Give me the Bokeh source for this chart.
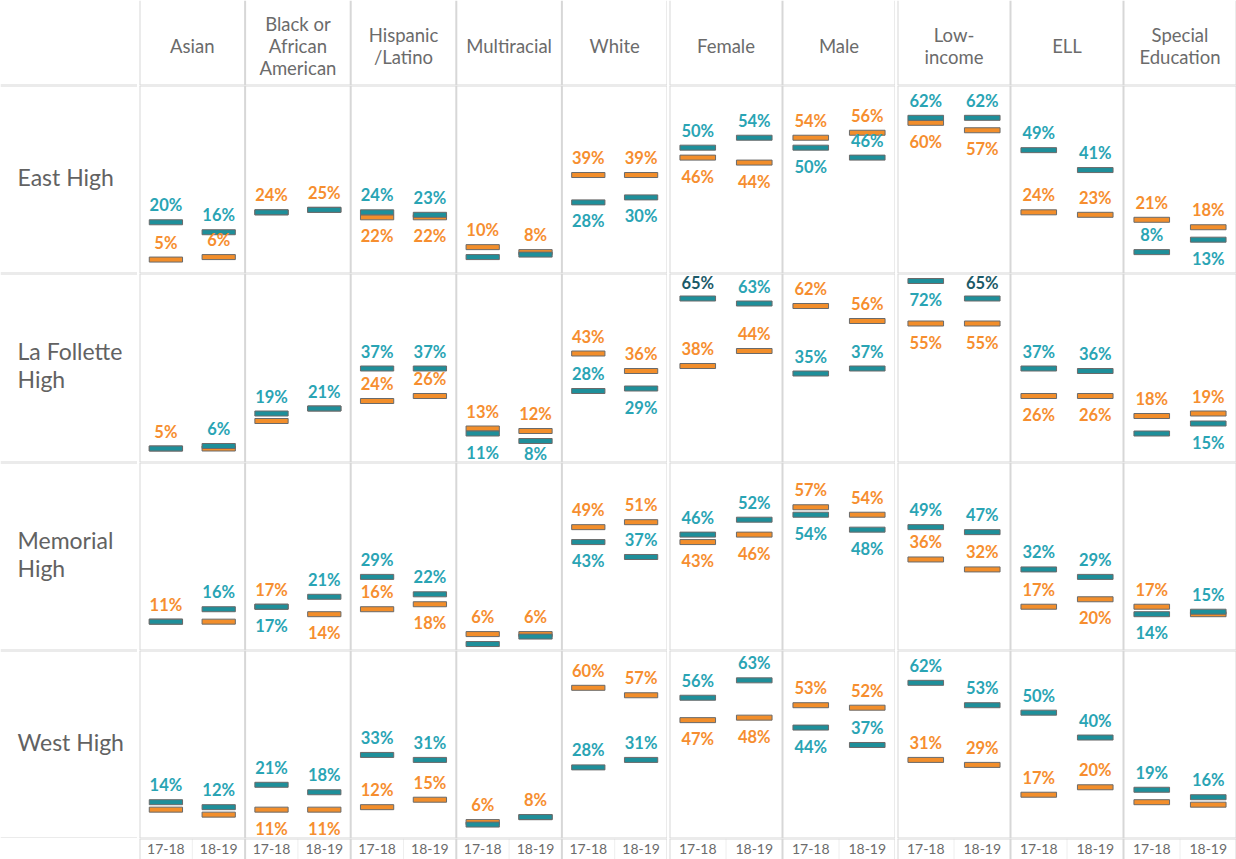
from bokeh.plotting import figure
from bokeh.models import FactorRange, Range1d, Span, ColumnDataSource
from bokeh.layouts import row, column
from bokeh.embed import file_html
from bokeh.resources import INLINE
from bokeh.core.properties import value

# ---------------- data ----------------
schools = ["East High", "La Follette High", "Memorial High", "West High"]
school_labels = ["East High", "La Follette\nHigh", "Memorial\nHigh", "West High"]
groups = ["Asian", "Black", "Hispanic", "Multiracial", "White",
          "Female", "Male", "Low-income", "ELL", "Special Education"]
group_labels = ["Asian", "Black or\nAfrican\nAmerican", "Hispanic\n/Latino", "Multiracial", "White",
                "Female", "Male", "Low-\nincome", "ELL", "Special\nEducation"]
years = ["17-18", "18-19"]

# teal series (percent), one list per school, in the order of `groups`
teal_1718 = {
    "East High":        [20, 24, 24, 6, 28, 50, 50, 62, 49, 8],
    "La Follette High": [5, 19, 37, 11, 28, 65, 35, 72, 37, 11],
    "Memorial High":    [11, 17, 29, 2, 43, 46, 54, 49, 32, 14],
    "West High":        [14, 21, 33, 5, 28, 56, 44, 62, 50, 19],
}
teal_1819 = {
    "East High":        [16, 25, 23, 7, 30, 54, 46, 62, 41, 13],
    "La Follette High": [6, 21, 37, 8, 29, 63, 37, 65, 36, 15],
    "Memorial High":    [16, 21, 22, 5, 37, 52, 48, 47, 29, 15],
    "West High":        [12, 18, 31, 8, 31, 63, 37, 53, 40, 16],
}
# orange series (percent)
orange_1718 = {
    "East High":        [5, 24, 22, 10, 39, 46, 54, 60, 24, 21],
    "La Follette High": [5, 16, 24, 13, 43, 38, 62, 55, 26, 18],
    "Memorial High":    [11, 17, 16, 6, 49, 43, 57, 36, 17, 17],
    "West High":        [11, 11, 12, 6, 60, 47, 53, 31, 17, 14],
}
orange_1819 = {
    "East High":        [6, 25, 22, 8, 39, 44, 56, 57, 23, 18],
    "La Follette High": [5, 21, 26, 12, 36, 44, 56, 55, 26, 19],
    "Memorial High":    [11, 14, 18, 6, 51, 46, 54, 32, 20, 14],
    "West High":        [9, 11, 15, 8, 57, 48, 52, 29, 20, 13],
}

# ---------------- label placement (style): a = above, b = below, - = hidden ----------------
teal_pos_1718 = {"East High": "a-a-babaaa", "La Follette High": "-aabaaaba-",
                 "Memorial High": "-ba-babaab", "West High": "aaa-aabaaa"}
teal_pos_1819 = {"East High": "a-a-baaaab", "La Follette High": "aaabbaaaab",
                 "Memorial High": "aaa-aabaaa", "West High": "aaa-aaaaaa"}
orange_pos_1718 = {"East High": "aabaababaa", "La Follette High": "a-aaaaabba",
                   "Memorial High": "aaaaabaaaa", "West High": "-baaabaaa-"}
orange_pos_1819 = {"East High": "aabaababaa", "La Follette High": "--aaaaabba",
                   "Memorial High": "-bbaabaab-", "West High": "-baaabaaa-"}
highlight = [("La Follette High", "Female", "17-18"), ("La Follette High", "Low-income", "18-19")]

values = {("teal", "17-18"): teal_1718, ("teal", "18-19"): teal_1819,
          ("orange", "17-18"): orange_1718, ("orange", "18-19"): orange_1819}
positions = {("teal", "17-18"): teal_pos_1718, ("teal", "18-19"): teal_pos_1819,
             ("orange", "17-18"): orange_pos_1718, ("orange", "18-19"): orange_pos_1819}

# ---------------- style ----------------
BAR = {"teal": "#1e8f9a", "orange": "#f28e2b"}
TXT = {"teal": "#29a4b4", "orange": "#f68e2f"}
HILITE_TXT = "#1b5a68"
BAR_LINE = "#6a6a6a"
GRID = "#d7d7d7"
LIGHT = "#eeeeee"
GREY_TXT = "#6b6b6b"
FONT = value("Lato")
Y0, Y1 = -0.6, 75.0

panel_groups = [groups[:5], groups[5:7], groups[7:]]
panel_widths = [528, 226, 339]
LABEL_W = 137
HEADER_H = 85
ROW_H = [188, 189, 188, 188]
AXIS_H = 21
ABOVE, BELOW, HALF_TXT = 17, 19, 9

x_ranges = [FactorRange(factors=[(g, y) for g in pg for y in years],
                        factor_padding=0, group_padding=0, range_padding=0)
            for pg in panel_groups]


def base_fig(width, height, x_range, y_range):
    p = figure(width=width, height=height, x_range=x_range, y_range=y_range,
               output_backend="svg", toolbar_location=None, tools="",
               min_border=0, x_axis_location=None, y_axis_location=None,
               outline_line_color=None, background_fill_color="white",
               border_fill_color="white")
    p.grid.visible = False
    return p


def hspan(p, loc):
    p.add_layout(Span(location=loc, dimension="width", line_color=GRID, line_width=2))


def vlines(p, n, light=False):
    for k in range(n + 1):
        p.add_layout(Span(location=2 * k, dimension="height", line_color=GRID, line_width=2))
    if light:
        for k in range(n):
            p.add_layout(Span(location=2 * k + 1, dimension="height", line_color=LIGHT, line_width=1))


def cell(school, k, height):
    pg = panel_groups[k]
    p = base_fig(panel_widths[k], height, x_ranges[k], Range1d(Y0, Y1))
    scale = height / (Y1 - Y0)
    vlines(p, len(pg))
    hspan(p, Y0)
    hspan(p, Y1)
    # bars: orange first, teal on top
    for ser in ("orange", "teal"):
        xs, ys = [], []
        for g in pg:
            gi = groups.index(g)
            for yr in years:
                xs.append((g, yr))
                ys.append(values[(ser, yr)][school][gi])
        p.rect(x=xs, y=ys, width=0.63, height=5, height_units="screen",
               fill_color=BAR[ser], line_color=BAR_LINE, line_width=1)
    # labels: teal first, orange on top
    for ser in ("teal", "orange"):
        xs, ys, tx, cols, dys = [], [], [], [], []
        for g in pg:
            gi = groups.index(g)
            for yr in years:
                pos = positions[(ser, yr)][school][gi]
                if pos == "-":
                    continue
                v = values[(ser, yr)][school][gi]
                xs.append((g, yr))
                ys.append(v)
                tx.append(f"{v}%")
                c = TXT[ser]
                if ser == "teal" and (school, g, yr) in highlight:
                    c = HILITE_TXT
                cols.append(c)
                if pos == "a":
                    dys.append(-min(ABOVE, (Y1 - v) * scale - HALF_TXT))
                else:
                    dys.append(min(BELOW, (v - Y0) * scale - HALF_TXT))
        src = ColumnDataSource(dict(x=xs, y=ys, text=tx, color=cols, dy=dys))
        p.text(x="x", y="y", text="text", source=src, text_color="color",
               y_offset="dy", text_align="center", text_baseline="middle",
               text_font=FONT, text_font_size="16.5px", text_font_style="bold")
    return p


# header row
hdr_left = base_fig(LABEL_W, HEADER_H, Range1d(0, 1), Range1d(0, 1))
hspan(hdr_left, 0)
header = [hdr_left]
for k, pg in enumerate(panel_groups):
    p = base_fig(panel_widths[k], HEADER_H, x_ranges[k], Range1d(0, 1))
    vlines(p, len(pg))
    hspan(p, 0)
    p.text(x=list(pg), y=[0.5] * len(pg), y_offset=3,
           text=[group_labels[groups.index(g)] for g in pg],
           text_align="center", text_baseline="middle", text_color=GREY_TXT,
           text_font=FONT, text_font_size="18.5px", text_line_height=1.0)
    header.append(p)

rows = [row(*header, spacing=2)]
for r, school in enumerate(schools):
    lab = base_fig(LABEL_W, ROW_H[r], Range1d(0, 1), Range1d(0, 1))
    hspan(lab, 0)
    hspan(lab, 1)
    lab.text(x=[0], y=[0.5], text=[school_labels[r]], x_offset=17, y_offset=-3,
             text_align="left", text_baseline="middle", text_color="#626262",
             text_font=FONT, text_font_size="23px", text_line_height=1.0)
    rows.append(row(lab, *[cell(school, k, ROW_H[r]) for k in range(3)], spacing=2))

# axis row
ax_left = base_fig(LABEL_W, AXIS_H, Range1d(0, 1), Range1d(0, 1))
axis_figs = [ax_left]
for k, pg in enumerate(panel_groups):
    p = base_fig(panel_widths[k], AXIS_H, x_ranges[k], Range1d(0, 1))
    vlines(p, len(pg), light=True)
    hspan(p, 1)
    xs = [(g, yr) for g in pg for yr in years]
    p.text(x=xs, y=[1] * len(xs), y_offset=5, text=[yr for g in pg for yr in years],
           text_align="center", text_baseline="top", text_color=GREY_TXT,
           text_font=FONT, text_font_size="14px")
    axis_figs.append(p)
rows.append(row(*axis_figs, spacing=2))

layout = column(*rows, spacing=0)
open("out.html", "w").write(file_html(layout, INLINE))
